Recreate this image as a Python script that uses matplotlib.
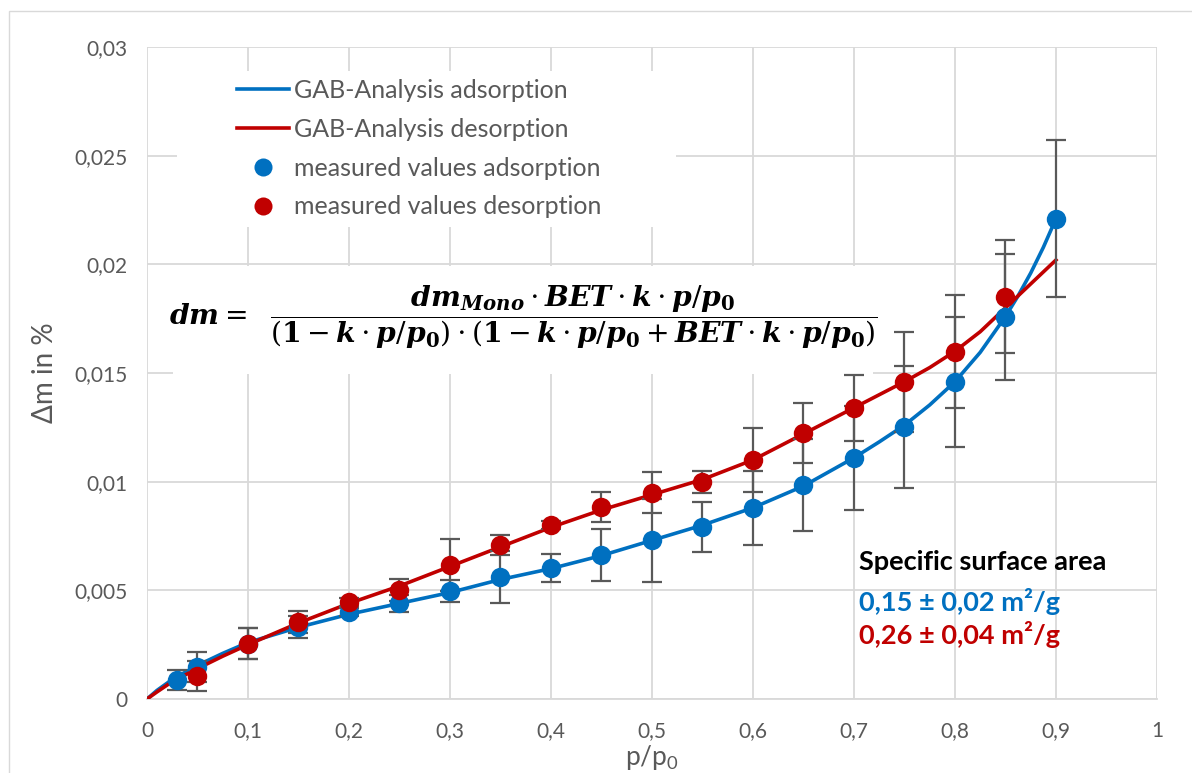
import matplotlib
matplotlib.use("Agg")
import matplotlib.pyplot as plt
from matplotlib.lines import Line2D
from matplotlib.patches import Rectangle
from matplotlib.ticker import FuncFormatter

plt.rcParams['font.family'] = ['Lato', 'DejaVu Sans']

BLUE = "#0070C0"
RED = "#C00000"
GREY = "#595959"
GRID = "#D9D9D9"

# measured values adsorption
x_ads = [0.03, 0.05, 0.1, 0.15, 0.2, 0.25, 0.3, 0.35, 0.4, 0.45, 0.5,
         0.55, 0.6, 0.65, 0.7, 0.75, 0.8, 0.85, 0.9]
y_ads = [0.00087, 0.00147, 0.00255, 0.0033, 0.0040, 0.0044, 0.00497, 0.0056,
         0.00603, 0.00663, 0.0073, 0.0079, 0.0088, 0.00985, 0.0111, 0.0125,
         0.0146, 0.01758, 0.0221]
err_ads = [0.00046, 0.0007, 0.0007, 0.0005, 0.0002, 0.0004, 0.0005, 0.0012,
           0.00065, 0.0012, 0.0019, 0.00115, 0.0017, 0.0021, 0.0024, 0.0028,
           0.003, 0.0029, 0.0036]

# measured values desorption
x_des = [0.05, 0.1, 0.15, 0.2, 0.25, 0.3, 0.35, 0.4, 0.45, 0.5, 0.55,
         0.6, 0.65, 0.7, 0.75, 0.8, 0.85]
y_des = [0.00106, 0.00255, 0.00354, 0.00446, 0.00502, 0.00617, 0.0071, 0.0080,
         0.00883, 0.0095, 0.0100, 0.0110, 0.01224, 0.01339, 0.01459, 0.01597,
         0.0185]
err_des = [0.0007, 0.0007, 0.0005, 0.0002, 0.0005, 0.0012, 0.00046, 0.0002,
           0.0007, 0.00095, 0.0005, 0.00147, 0.0014, 0.0015, 0.0023, 0.0026,
           0.0026]

# GAB fit curves
x_fit = [0.0, 0.01, 0.025, 0.05, 0.075, 0.1, 0.15, 0.2, 0.25, 0.3, 0.35, 0.4,
         0.45, 0.5, 0.55, 0.6, 0.65, 0.7, 0.725, 0.75, 0.775, 0.8, 0.825,
         0.85, 0.8625, 0.875, 0.8875, 0.9]
y_fit_ads = [0.0, 0.0004, 0.0009, 0.00155, 0.0021, 0.0026, 0.0033, 0.0039,
             0.0044, 0.0049, 0.0055, 0.0060, 0.0066, 0.0073, 0.0080, 0.0088,
             0.0098, 0.0111, 0.01183, 0.0126, 0.01353, 0.0146, 0.01595,
             0.0176, 0.01855, 0.0196, 0.02078, 0.0221]
y_fit_des = [0.0, 0.00033, 0.0008, 0.0014, 0.00197, 0.0025, 0.0035, 0.0044,
             0.0052, 0.0061, 0.0070, 0.0079, 0.0087, 0.0094, 0.0101, 0.0110,
             0.0122, 0.0134, 0.0140, 0.0146, 0.01525, 0.0160, 0.0169,
             0.0180, 0.01855, 0.0191, 0.01965, 0.0202]

fig = plt.figure(figsize=(11.92, 7.73), dpi=100)
ax = fig.add_axes([0.1233, 0.0957, 0.8473, 0.8435])

# chart area border
fig.patches.append(Rectangle((9 / 1192, -0.1), 1.2, 1 - 11 / 773 + 0.1,
                             transform=fig.transFigure, fill=False,
                             edgecolor=GRID, linewidth=1.0))

ax.plot(x_fit, y_fit_ads, color=BLUE, lw=2.6, zorder=3)
ax.plot(x_fit, y_fit_des, color=RED, lw=2.6, zorder=3)

ax.errorbar(x_ads, y_ads, yerr=err_ads, fmt='none', ecolor=GREY,
            elinewidth=1.6, capsize=7, capthick=1.6, zorder=4)
ax.errorbar(x_des, y_des, yerr=err_des, fmt='none', ecolor=GREY,
            elinewidth=1.6, capsize=7, capthick=1.6, zorder=4)
ax.plot(x_ads, y_ads, 'o', color=BLUE, ms=14, mec='none', zorder=5)
ax.plot(x_des, y_des, 'o', color=RED, ms=14, mec='none', zorder=5)

ax.set_xlim(0, 1)
ax.set_ylim(0, 0.03)
ax.set_xticks([i / 10 for i in range(11)])
ax.set_yticks([0, 0.005, 0.01, 0.015, 0.02, 0.025, 0.03])


def comma(v, pos):
    s = ('%.3f' % v).rstrip('0').rstrip('.')
    return s.replace('.', ',')


ax.xaxis.set_major_formatter(FuncFormatter(comma))
ax.yaxis.set_major_formatter(FuncFormatter(comma))
ax.tick_params(length=0, labelsize=15, labelcolor=GREY)
ax.tick_params(axis='x', pad=16)
ax.tick_params(axis='y', pad=14)
ax.grid(True, color=GRID, lw=1.3, zorder=0)
ax.set_axisbelow(True)
for s in ['top', 'right', 'left']:
    ax.spines[s].set_visible(False)
ax.spines['bottom'].set_color(GRID)
ax.spines['bottom'].set_linewidth(1.3)

ax.set_xlabel(r'p/p$_\mathregular{0}$', fontsize=19, color=GREY, labelpad=1)
ax.set_ylabel('Δm in %', fontsize=20, color=GREY, labelpad=12)

# white boxes behind legend and equation (cover the grid)
ax.add_patch(Rectangle((0.0297, 0.7239), 0.4941, 0.2393,
                       transform=ax.transAxes, fc='white', ec='none',
                       zorder=1))
ax.add_patch(Rectangle((0.0257, 0.4985), 0.6931, 0.1656,
                       transform=ax.transAxes, fc='white', ec='none',
                       zorder=1))

handles = [
    Line2D([], [], color=BLUE, lw=2.6),
    Line2D([], [], color=RED, lw=2.6),
    Line2D([], [], color=BLUE, marker='o', ls='none', ms=13, mec='none'),
    Line2D([], [], color=RED, marker='o', ls='none', ms=13, mec='none'),
]
labels = ['GAB-Analysis adsorption', 'GAB-Analysis desorption',
          'measured values adsorption', 'measured values desorption']
leg = ax.legend(handles, labels, loc='upper left',
                bbox_to_anchor=(0.064, 0.989), fontsize=18, frameon=False,
                handlelength=2.1, handletextpad=0.2,
                labelspacing=0.63, borderpad=0.5)
for t in leg.get_texts():
    t.set_color(GREY)
leg.set_zorder(6)

eq = (r'$\mathbfit{dm} =\ \ \dfrac{\mathbfit{dm}_{\mathbfit{Mono}}\cdot'
      r'\mathbfit{BET}\cdot\mathbfit{k}\cdot\mathbfit{p}/\mathbfit{p}_{\mathbf{0}}}'
      r'{(\mathbf{1}-\mathbfit{k}\cdot\mathbfit{p}/\mathbfit{p}_{\mathbf{0}})\cdot'
      r'(\mathbf{1}-\mathbfit{k}\cdot\mathbfit{p}/\mathbfit{p}_{\mathbf{0}}+'
      r'\mathbfit{BET}\cdot\mathbfit{k}\cdot\mathbfit{p}/\mathbfit{p}_{\mathbf{0}})}$')
ax.text(0.0215, 0.01755, eq, fontsize=20.3, math_fontfamily='dejavuserif',
        ha='left', va='center', zorder=6)

ax.text(0.705, 0.0063, 'Specific surface area', fontsize=19.5,
        fontweight='bold', color='black', va='center', zorder=6)
ax.text(0.705, 0.00451, '0,15 ± 0,02 m²/g', fontsize=19.5,
        fontweight='bold', color=BLUE, va='center', zorder=6)
ax.text(0.705, 0.00299, '0,26 ± 0,04 m²/g', fontsize=19.5,
        fontweight='bold', color=RED, va='center', zorder=6)

fig.savefig('out.png', dpi=100)
